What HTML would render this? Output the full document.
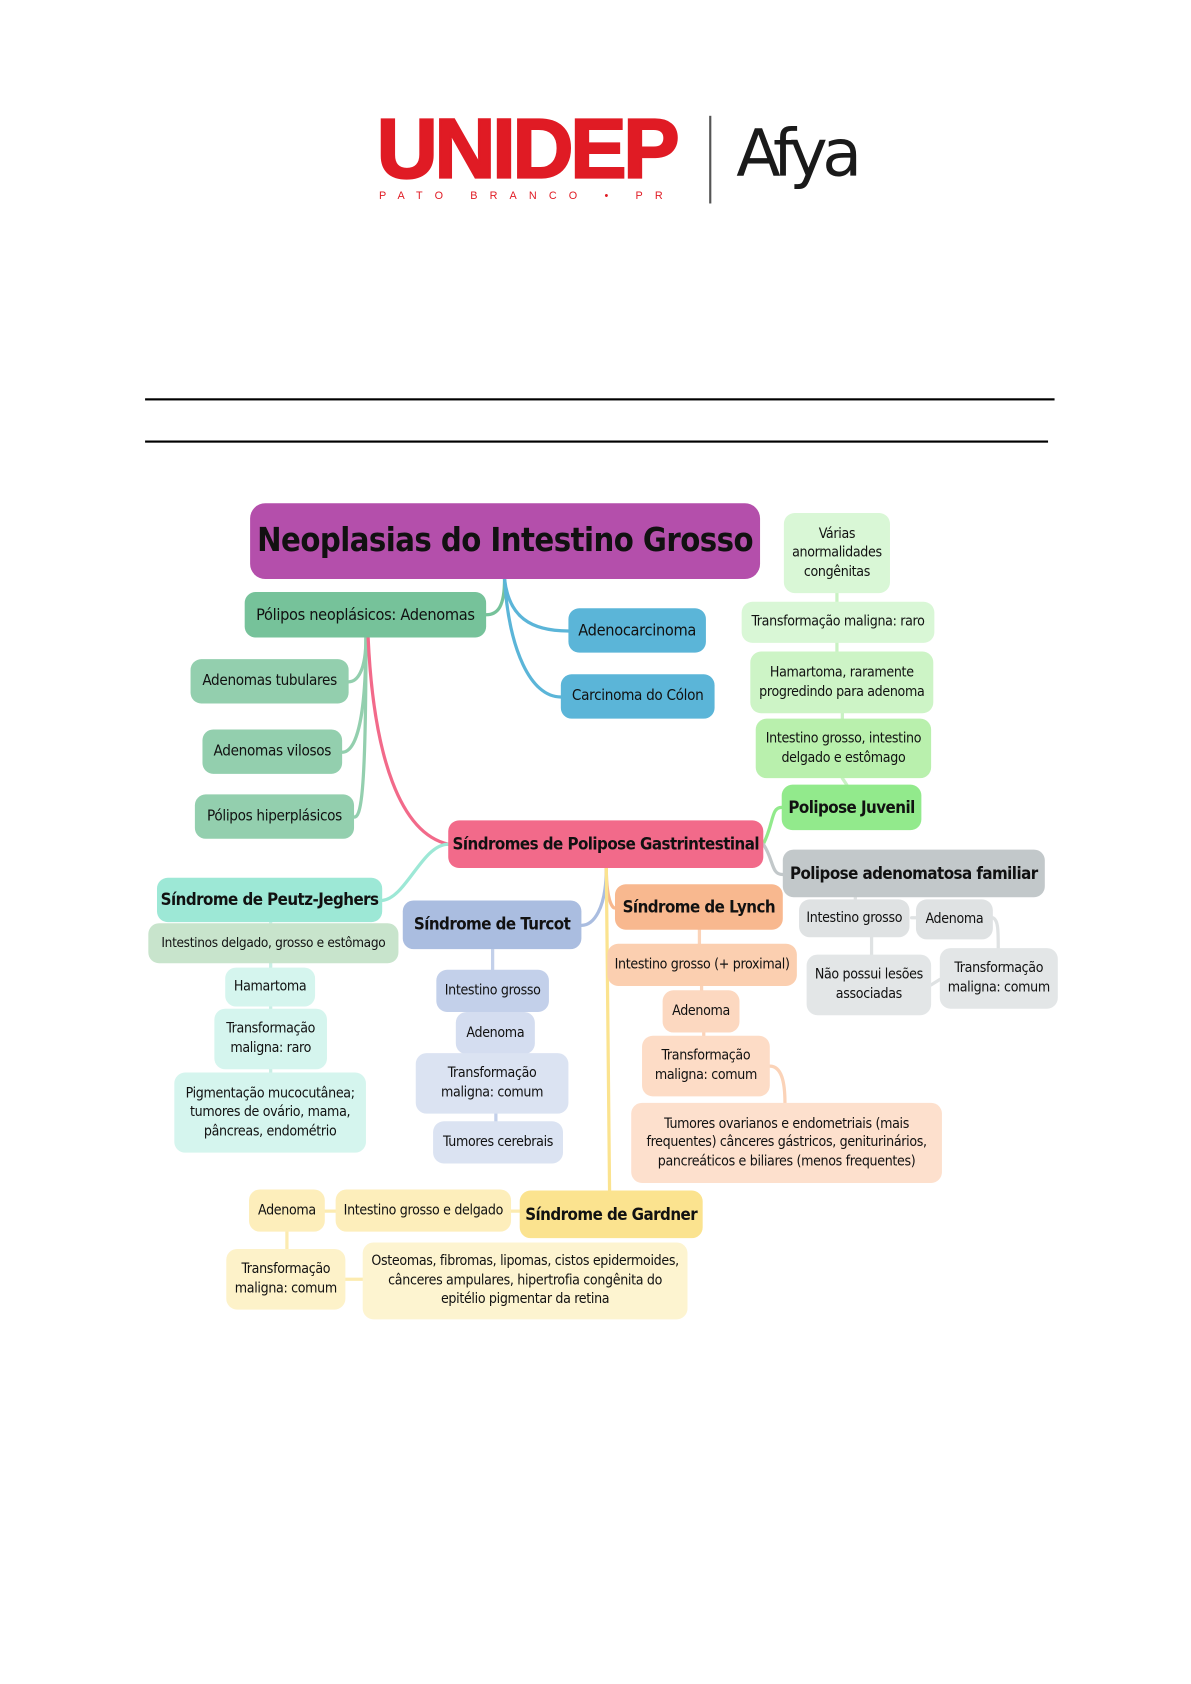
<!DOCTYPE html>
<html><head><meta charset="utf-8"><style>
html,body{margin:0;padding:0;background:#fff;}
#wrap{width:1191px;height:1684px;overflow:hidden;position:relative;}
#c{position:absolute;left:0;top:0;width:1100px;height:1556px;transform:scale(1.0827,1.0823);transform-origin:0 0;font-family:"DejaVu Sans Condensed","Liberation Sans Narrow","Liberation Sans",sans-serif;}
.n{position:absolute;box-sizing:border-box;border-radius:10px;display:flex;align-items:center;justify-content:center;text-align:center;color:#111;font-size:13px;line-height:1.35;white-space:nowrap;letter-spacing:-0.3px;}
.b{font-weight:bold;font-size:15.5px;letter-spacing:-0.5px;}
</style></head><body><div id="wrap"><div id="c">
<div style="position:absolute;left:348px;top:98px;font-family:'Liberation Sans',sans-serif;font-weight:900;font-size:78px;color:#e01b24;letter-spacing:-3px;line-height:78px;-webkit-text-stroke:2px #e01b24;">UNIDEP</div>
<div style="position:absolute;left:350px;top:176px;font-family:'Liberation Sans',sans-serif;font-size:10px;color:#e01b24;letter-spacing:11.2px;">PATO BRANCO • PR</div>
<div style="position:absolute;left:655px;top:107px;width:2px;height:81px;background:#555;"></div>
<div style="position:absolute;left:680px;top:106px;font-family:'DejaVu Sans',sans-serif;font-size:60px;color:#1a1a1a;line-height:72px;letter-spacing:-5px;">Afya</div>
<div style="position:absolute;left:134px;top:368px;width:840px;height:2px;background:#000;"></div>
<div style="position:absolute;left:134px;top:407px;width:834px;height:2px;background:#000;"></div>

<svg style="position:absolute;left:0;top:0" width="1100" height="1556" fill="none" stroke-width="3" stroke-linecap="round">
<path d="M466 535 C466 560 460 568 449 568" stroke="#76c29a"/>
<path d="M466 535 C470 570 490 583 525 583" stroke="#5bb5d8"/>
<path d="M466 535 C470 600 490 644 518 644" stroke="#5bb5d8"/>
<path d="M338 589 C338 620 330 630 322 630" stroke="#93cfae"/>
<path d="M338 589 C338 680 325 695 316 695" stroke="#93cfae"/>
<path d="M338 589 C338 740 333 755 327 755" stroke="#93cfae"/>
<path d="M340 589 C345 700 370 770 414 780" stroke="#f26a8a"/>
<path d="M414 780 C390 780 375 830 353 832" stroke="#9de8d6"/>
<path d="M560 802 C560 840 548 855 537 855" stroke="#aabde0"/>
<path d="M560 802 C560 830 565 839 568 839" stroke="#f8b88f"/>
<path d="M560 802 L563 1100" stroke="#fbe38f"/>
<path d="M705 780 C715 760 712 746 722 746" stroke="#92ea8c"/>
<path d="M705 780 C715 795 712 808 723 808" stroke="#c2c8ca"/>
<path d="M773 548 L773 556 M773 594 L773 602 M778 659 L778 664 M778 719 L782 725" stroke="#c9f2c3"/>
<path d="M790 829 L790 832 M846 848 L842 848 M805 866 L805 882 M917 848 C922 850 922 860 922 876 M860 910 L868 905" stroke="#dfe2e3"/>
<path d="M250 852 L250 853 M250 890 L250 894 M250 930 L250 932 M250 988 L250 991" stroke="#c9efe5"/>
<path d="M455 877 L455 896 M457 935 L457 935 M455 974 L455 973 M458 1029 L458 1036" stroke="#c3d0ea"/>
<path d="M646 859 L646 872 M648 911 L648 915 M650 954 L650 957 M711 985 C722 985 725 1000 725 1019" stroke="#fbd3b8"/>
<path d="M480 1119 L472 1119 M310 1119 L300 1119 M265 1138 L265 1154 M319 1182 L335 1182" stroke="#fcebb0"/>
</svg>

<div class="n b" style="left:231px;top:465px;width:471px;height:70px;background:#b44fab;border-radius:14px;font-size:30px;letter-spacing:-0.5px;">Neoplasias do Intestino Grosso</div>
<div class="n" style="left:226px;top:547px;width:223px;height:42px;background:#76c29a;font-size:15px;">Pólipos neoplásicos: Adenomas</div>
<div class="n" style="left:176px;top:609px;width:146px;height:41px;background:#93cfae;font-size:14px;">Adenomas tubulares</div>
<div class="n" style="left:187px;top:674px;width:129px;height:41px;background:#93cfae;font-size:14px;">Adenomas vilosos</div>
<div class="n" style="left:180px;top:734px;width:147px;height:41px;background:#93cfae;font-size:14px;">Pólipos hiperplásicos</div>
<div class="n" style="left:525px;top:562px;width:127px;height:41px;background:#5bb5d8;font-size:15px;">Adenocarcinoma</div>
<div class="n" style="left:518px;top:623px;width:142px;height:41px;background:#5bb5d8;font-size:14px;">Carcinoma do Cólon</div>
<div class="n b" style="left:414px;top:758px;width:291px;height:44px;background:#f26a8a;">Síndromes de Polipose Gastrintestinal</div>

<div class="n" style="left:724px;top:474px;width:98px;height:74px;background:#d9f7d6;">Várias<br>anormalidades<br>congênitas</div>
<div class="n" style="left:685px;top:556px;width:178px;height:38px;background:#d9f7d6;">Transformação maligna: raro</div>
<div class="n" style="left:693px;top:602px;width:169px;height:57px;background:#cdf4c6;">Hamartoma, raramente<br>progredindo para adenoma</div>
<div class="n" style="left:698px;top:664px;width:162px;height:55px;background:#b9f0ad;">Intestino grosso, intestino<br>delgado e estômago</div>
<div class="n b" style="left:722px;top:725px;width:129px;height:42px;background:#92ea8c;">Polipose Juvenil</div>
<div class="n b" style="left:723px;top:785px;width:242px;height:44px;background:#c2c8ca;">Polipose adenomatosa familiar</div>
<div class="n" style="left:738px;top:831px;width:102px;height:35px;background:#dfe2e3;">Intestino grosso</div>
<div class="n" style="left:846px;top:831px;width:71px;height:37px;background:#dfe2e3;">Adenoma</div>
<div class="n" style="left:745px;top:882px;width:115px;height:56px;background:#e3e6e7;">Não possui lesões<br>associadas</div>
<div class="n" style="left:868px;top:876px;width:109px;height:56px;background:#e3e6e7;">Transformação<br>maligna: comum</div>

<div class="n b" style="left:145px;top:811px;width:208px;height:41px;background:#9de8d6;">Síndrome de Peutz-Jeghers</div>
<div class="n" style="left:137px;top:853px;width:231px;height:37px;background:#c8e4cc;font-size:12.5px;">Intestinos delgado, grosso e estômago</div>
<div class="n" style="left:208px;top:894px;width:83px;height:36px;background:#d5f5ee;">Hamartoma</div>
<div class="n" style="left:198px;top:932px;width:104px;height:56px;background:#d5f5ee;">Transformação<br>maligna: raro</div>
<div class="n" style="left:161px;top:991px;width:177px;height:74px;background:#d5f5ee;">Pigmentação mucocutânea;<br>tumores de ovário, mama,<br>pâncreas, endométrio</div>

<div class="n b" style="left:372px;top:832px;width:165px;height:45px;background:#aabde0;">Síndrome de Turcot</div>
<div class="n" style="left:403px;top:896px;width:104px;height:39px;background:#c3d0ea;">Intestino grosso</div>
<div class="n" style="left:421px;top:935px;width:73px;height:39px;background:#d4ddf0;">Adenoma</div>
<div class="n" style="left:384px;top:973px;width:141px;height:56px;background:#dbe3f2;">Transformação<br>maligna: comum</div>
<div class="n" style="left:400px;top:1036px;width:120px;height:39px;background:#dbe3f2;">Tumores cerebrais</div>

<div class="n b" style="left:568px;top:817px;width:155px;height:42px;background:#f8b88f;">Síndrome de Lynch</div>
<div class="n" style="left:561px;top:872px;width:175px;height:39px;background:#fbcfb0;">Intestino grosso (+ proximal)</div>
<div class="n" style="left:612px;top:915px;width:71px;height:39px;background:#fcd8c0;">Adenoma</div>
<div class="n" style="left:593px;top:957px;width:118px;height:56px;background:#fddcc6;">Transformação<br>maligna: comum</div>
<div class="n" style="left:583px;top:1019px;width:287px;height:74px;background:#fde0cd;">Tumores ovarianos e endometriais (mais<br>frequentes) cânceres gástricos, geniturinários,<br>pancreáticos e biliares (menos frequentes)</div>

<div class="n b" style="left:480px;top:1100px;width:169px;height:44px;background:#fbe38f;">Síndrome de Gardner</div>
<div class="n" style="left:310px;top:1099px;width:162px;height:39px;background:#fdeebb;">Intestino grosso e delgado</div>
<div class="n" style="left:230px;top:1099px;width:70px;height:39px;background:#fdeebb;">Adenoma</div>
<div class="n" style="left:209px;top:1154px;width:110px;height:56px;background:#fdf2c9;">Transformação<br>maligna: comum</div>
<div class="n" style="left:335px;top:1148px;width:300px;height:71px;background:#fdf4d0;">Osteomas, fibromas, lipomas, cistos epidermoides,<br>cânceres ampulares, hipertrofia congênita do<br>epitélio pigmentar da retina</div>
</div></div></body></html>
